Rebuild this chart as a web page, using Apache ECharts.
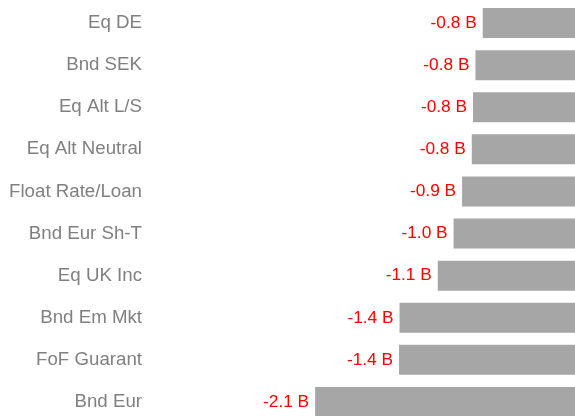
<!DOCTYPE html>
<html>
<head>
<meta charset="utf-8">
<script src="https://cdn.jsdelivr.net/npm/echarts@6/dist/echarts.min.js"></script>
<style>
  html, body { margin: 0; padding: 0; background: #fff; width: 575px; height: 416px; overflow: hidden; }
  #chart { width: 575px; height: 425px; }
</style>
</head>
<body>
<div id="chart"></div>
<script>
// fund categories, top to bottom
var categories = [
  "Eq DE",
  "Bnd SEK",
  "Eq Alt L/S",
  "Eq Alt Neutral",
  "Float Rate/Loan",
  "Bnd Eur Sh-T",
  "Eq UK Inc",
  "Bnd Em Mkt",
  "FoF Guarant",
  "Bnd Eur"
];
// net flows, billions
var flows = [-0.76, -0.82, -0.84, -0.85, -0.93, -1.0, -1.13, -1.445, -1.449, -2.14];

var chart = echarts.init(document.getElementById("chart"));

// the last row runs past the bottom edge of the window, as in the original
chart.setOption({
  animation: false,
  grid: {
    left: 150,
    right: 0,
    top: 2,
    bottom: 2
  },
  xAxis: {
    type: "value",
    min: -3.5,
    max: 0,
    show: false
  },
  yAxis: {
    type: "category",
    data: categories,
    inverse: true,
    axisLine: { show: false },
    axisTick: { show: false },
    axisLabel: {
      margin: 8,
      color: "#808080",
      fontSize: 18.7,
      fontFamily: "Liberation Sans"
    }
  },
  series: [
    {
      type: "bar",
      data: flows,
      barWidth: 30,
      itemStyle: { color: "#a6a6a6" },
      label: {
        show: true,
        position: "left",
        distance: 6,
        color: "#ff0000",
        fontSize: 17.3,
        fontFamily: "Liberation Sans",
        formatter: function (p) {
          return p.value.toFixed(1) + " B";
        }
      }
    }
  ]
});
</script>
</body>
</html>
